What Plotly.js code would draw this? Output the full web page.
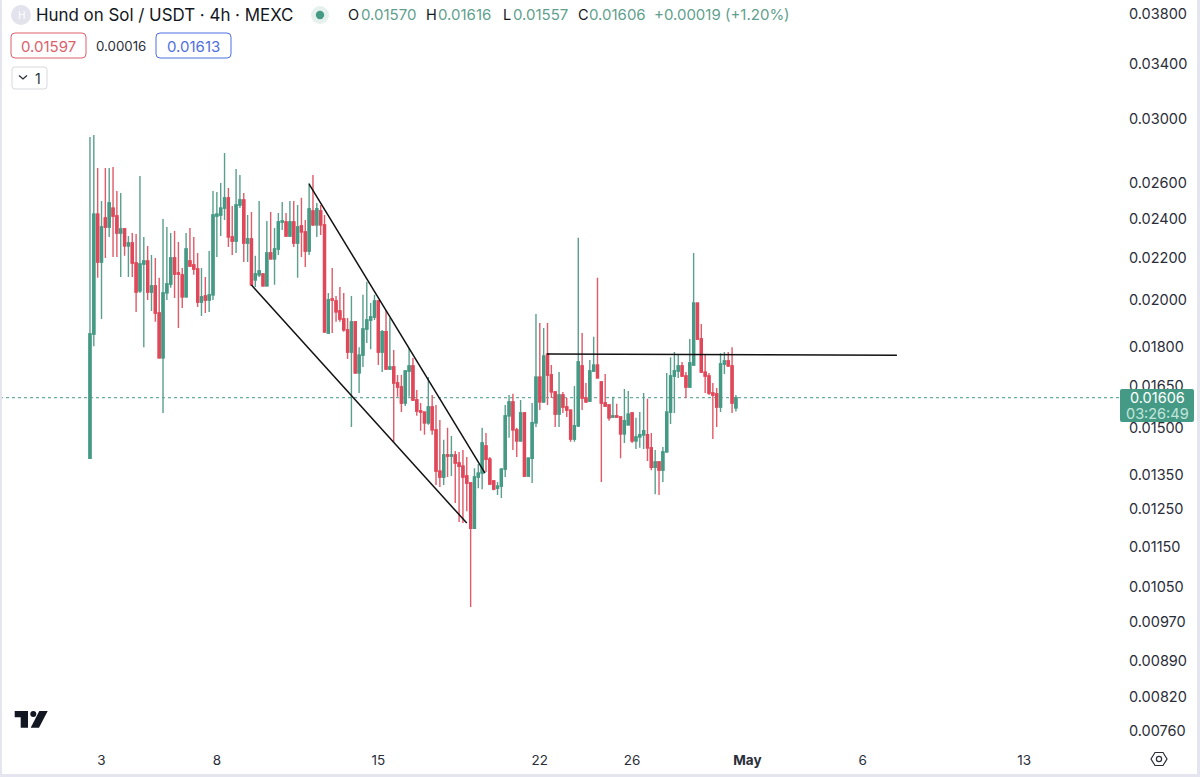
<!DOCTYPE html>
<html>
<head>
<meta charset="utf-8">
<script src="https://cdn.plot.ly/plotly-3.0.1.min.js"></script>
<style>html,body{margin:0;padding:0;background:#fff}#chart{width:1200px;height:777px}</style>
</head>
<body>
<div id="chart"></div>
<script>
var opens = [
.01402,.01853,.02425,.02178,.02404,.02356,.02458,.02415,.02324,.02345,
.02258,.02273,.02173,.02041,.02168,.02183,.02036,.02064,.01942,.01756,
.02032,.02073,.02198,.02125,.02116,.02014,.02183,.02163,.02144,.01991,
.02018,.02000,.02023,.02415,.02420,.02458,.02515,.02304,.02283,.02475,
.02503,.02273,.02293,.02092,.02116,.02120,.02064,.02222,.02193,.02242,
.02382,.02382,.02309,.02382,.02273,.02361,.02330,.02232,.02442,.02367,
.02442,.02367,.01857,.02005,.01995,.01951,.01916,.01870,.01779,.01904,
.01698,.01767,.01874,.01912,.01925,.01995,.01779,.01862,.01713,.01721,
.01660,.01645,.01587,.01705,.01725,.01598,.01559,.01555,.01518,.01573,
.01494,.01362,.01344,.01412,.01409,.01412,.01387,.01377,.01347,.01326,
.01198,.01344,.01356,.01441,.01399,.01332,.01311,.01317,.01368,.01542,
.01591,.01494,.01458,.01552,.01347,.01402,.01518,.01682,.01591,.01771,
.01690,.01627,.01548,.01616,.01573,.01562,.01464,.01508,.01725,.01605,
.01594,.01705,.01728,.01664,.01587,.01580,.01538,.01542,.01538,.01481,
.01511,.01552,.01458,.01471,.01478,.01478,.01435,.01374,.01390,.01365,
.01422,.01555,.01686,.01705,.01725,.01686,.01645,.01728,.01986,.01832,
.01701,.01686,.01623,.01620,.01573,.01732,.01744,.01725,.01570];
var highs = [
.02883,.02896,.02689,.02497,.02689,.02689,.02695,.02554,.02543,.02351,
.02309,.02324,.02319,.02642,.02304,.02258,.02212,.02198,.02102,.02398,
.02356,.02324,.02335,.02278,.02149,.02324,.02351,.02304,.02222,.02149,
.02106,.02232,.02554,.02549,.02601,.02781,.02572,.02469,.02683,.02648,
.02543,.02420,.02436,.02208,.02497,.02120,.02388,.02436,.02351,.02431,
.02492,.02431,.02497,.02497,.02475,.02515,.02393,.02601,.02648,.02486,
.02475,.02420,.02032,.02149,.02018,.02059,.02032,.01921,.02018,.01904,
.01799,.02023,.02083,.01986,.02023,.01995,.01870,.01955,.01921,.01787,
.01690,.01690,.01701,.01795,.01756,.01634,.01587,.01555,.01682,.01616,
.01580,.01528,.01461,.01501,.01474,.01425,.01422,.01428,.01406,.01326,
.01371,.01384,.01501,.01484,.01406,.01335,.01329,.01371,.01580,.01616,
.01620,.01501,.01598,.01552,.01402,.01587,.01938,.01899,.01878,.01899,
.01728,.01627,.01701,.01627,.01605,.01562,.01649,.02299,.01857,.01660,
.01748,.01841,.02102,.01664,.01694,.01580,.01609,.01584,.01538,.01638,
.01630,.01555,.01535,.01555,.01623,.01602,.01484,.01428,.01390,.01438,
.01698,.01759,.01779,.01771,.01740,.01701,.01832,.02222,.01986,.01895,
.01771,.01698,.01660,.01641,.01775,.01779,.01779,.01799,.01616];
var lows = [
.01402,.01803,.02102,.01916,.02198,.02304,.02203,.02203,.02106,.02208,
.02106,.02106,.01947,.02032,.01799,.02000,.01951,.01904,.01756,.01552,
.02000,.02055,.02009,.01878,.01964,.02014,.02154,.02116,.01969,.01929,
.01942,.01947,.02000,.02203,.02309,.02393,.02252,.02212,.02222,.02458,
.02178,.02178,.02064,.02059,.02106,.02064,.02064,.02193,.02069,.02212,
.02340,.02309,.02304,.02252,.02102,.02203,.02154,.02212,.02361,.02304,
.02314,.01857,.01857,.01857,.01904,.01904,.01862,.01752,.01504,.01694,
.01623,.01721,.01816,.01791,.01912,.01728,.01701,.01713,.01713,.01455,
.01609,.01555,.01576,.01609,.01594,.01542,.01491,.01478,.01511,.01478,
.01320,.01314,.01320,.01344,.01347,.01268,.01215,.01212,.01245,.01004,
.01198,.01311,.01308,.01359,.01323,.01305,.01291,.01282,.01344,.01468,
.01428,.01406,.01455,.01344,.01347,.01326,.01504,.01562,.01587,.01580,
.01605,.01504,.01504,.01552,.01538,.01455,.01455,.01504,.01562,.01587,
.01591,.01701,.01679,.01329,.01573,.01525,.01538,.01538,.01402,.01451,
.01511,.01451,.01431,.01435,.01431,.01393,.01365,.01293,.01291,.01329,
.01419,.01514,.01552,.01679,.01682,.01605,.01645,.01728,.01832,.01698,
.01623,.01616,.01464,.01504,.01555,.01694,.01721,.01552,.01557];
var closes = [
.01853,.02425,.02178,.02356,.02356,.02486,.02415,.02324,.02345,.02258,
.02273,.02173,.02036,.02168,.02183,.02036,.02064,.01942,.01756,.02032,
.02073,.02198,.02120,.02120,.02014,.02242,.02158,.02144,.01991,.02014,
.02000,.02023,.02420,.02425,.02458,.02515,.02304,.02283,.02475,.02503,
.02273,.02293,.02069,.02120,.02134,.02064,.02222,.02193,.02242,.02382,
.02388,.02309,.02382,.02273,.02356,.02330,.02232,.02453,.02367,.02453,
.02367,.01862,.02000,.02000,.01947,.01916,.01870,.01779,.01904,.01698,
.01767,.01874,.01912,.01925,.01995,.01779,.01862,.01713,.01721,.01660,
.01645,.01587,.01705,.01725,.01598,.01559,.01555,.01518,.01573,.01494,
.01362,.01344,.01412,.01409,.01412,.01387,.01377,.01344,.01326,.01198,
.01344,.01356,.01451,.01399,.01323,.01308,.01317,.01368,.01542,.01591,
.01494,.01458,.01552,.01347,.01402,.01518,.01682,.01591,.01763,.01690,
.01627,.01548,.01616,.01573,.01562,.01464,.01508,.01740,.01605,.01591,
.01705,.01728,.01679,.01587,.01576,.01535,.01542,.01538,.01481,.01525,
.01548,.01458,.01471,.01478,.01491,.01435,.01374,.01390,.01365,.01422,
.01555,.01686,.01705,.01725,.01686,.01645,.01736,.01986,.01832,.01701,
.01686,.01623,.01616,.01573,.01732,.01744,.01725,.01587,.01606];

var firstCandle = "2024-04-02T12:00:00Z";
var candleHours = 4;
var priceTicks = [0.038,0.034,0.03,0.026,0.024,0.022,0.02,0.018,0.0165,0.015,0.0135,0.0125,0.0115,0.0105,0.0097,0.0089,0.0082,0.0076];
var priceLabels = ["0.03800","0.03400","0.03000","0.02600","0.02400","0.02200","0.02000","0.01800","0.01650","0.01500","0.01350","0.01250","0.01150","0.01050","0.00970","0.00890","0.00820","0.00760"];
var dateTicks = ["2024-04-03","2024-04-08","2024-04-15","2024-04-22","2024-04-26","2024-05-01","2024-05-06","2024-05-13"];
var dateLabels = ["3","8","15","22","26","<b>May</b>","6","13"];
var upperTrendX = ["2024-04-12 00:00","2024-04-19 15:00"], upperTrendY = [0.02594,0.01356];
var lowerTrendX = ["2024-04-09 12:00","2024-04-18 20:00"], lowerTrendY = [0.02068,0.01212];
var levelX = ["2024-04-22 07:30","2024-05-07 11:30"], levelY = [0.01772,0.01767];
var lastClose = 0.01606;

var W=1200,H=777,mR=82,mB=32,PW=W-mR,PH=H-mB;
var GREEN="#459a85",RED="#e0485a",GWICK="#5a9f8d",RWICK="#e05a68",TXT="#2a2e39";
function px(x){return x/PW;}
function py(y){return 1-y/PH;}
var hourMs=3600000, t0=Date.parse(firstCandle);
var times=opens.map(function(_,i){return t0+i*candleHours*hourMs;});
var bodyHi=opens.map(function(o,i){return Math.max(o,closes[i]);});
var bodyLo=opens.map(function(o,i){return Math.min(o,closes[i]);});

var traces=[
 {type:"candlestick",x:times,open:opens,high:highs,low:lows,close:closes,width:2*hourMs,whiskerwidth:0,
  increasing:{line:{color:GWICK,width:1.4},fillcolor:GREEN},decreasing:{line:{color:RWICK,width:1.4},fillcolor:RED},hoverinfo:"skip"},
 {type:"candlestick",x:times,open:opens,high:bodyHi,low:bodyLo,close:closes,width:2*hourMs,whiskerwidth:0,
  increasing:{line:{color:GREEN,width:1.4},fillcolor:GREEN},decreasing:{line:{color:RED,width:1.4},fillcolor:RED},hoverinfo:"skip"},
 {type:"scatter",mode:"lines",x:upperTrendX,y:upperTrendY,line:{color:"#111",width:1.5},hoverinfo:"skip"},
 {type:"scatter",mode:"lines",x:lowerTrendX,y:lowerTrendY,line:{color:"#111",width:1.5},hoverinfo:"skip"},
 {type:"scatter",mode:"lines",x:levelX,y:levelY,line:{color:"#111",width:1.5},hoverinfo:"skip"}
];

function rrect(x0,y0,x1,y1,r){
 var X0=px(x0),X1=px(x1),Y0=py(y0),Y1=py(y1),rx=r/PW,ry=r/PH;
 return "M"+(X0+rx)+","+Y0+" L"+(X1-rx)+","+Y0+" Q"+X1+","+Y0+" "+X1+","+(Y0-ry)+" L"+X1+","+(Y1+ry)+" Q"+X1+","+Y1+" "+(X1-rx)+","+Y1+" L"+(X0+rx)+","+Y1+" Q"+X0+","+Y1+" "+X0+","+(Y1+ry)+" L"+X0+","+(Y0-ry)+" Q"+X0+","+Y0+" "+(X0+rx)+","+Y0+" Z";
}
function poly(pts,close){
 return pts.map(function(p,i){return (i?"L":"M")+px(p[0])+","+py(p[1]);}).join(" ")+(close?" Z":"");
}
function pshape(d,fill,stroke,w){
 return {type:"path",xref:"paper",yref:"paper",path:d,fillcolor:fill||"rgba(0,0,0,0)",line:{color:stroke||"rgba(0,0,0,0)",width:w||0}};
}
function circ(cx,cy,r,fill,stroke,w){
 return {type:"circle",xref:"paper",yref:"paper",x0:px(cx-r),x1:px(cx+r),y0:py(cy+r),y1:py(cy-r),fillcolor:fill,line:{color:stroke||"rgba(0,0,0,0)",width:w||0}};
}
var shapes=[
 {type:"line",xref:"paper",yref:"y",x0:0,x1:px(1120),y0:lastClose,y1:lastClose,layer:"below",line:{color:GREEN,width:1,dash:"dot"}},
 pshape(rrect(0,0,2,777,0),"#e4e5ef"),
 pshape(rrect(1197,0,1200,777,0),"#e4e5ef"),
 pshape(rrect(0,774,1200,777,0),"#e4e5ef"),
 circ(21,15,10,"#e2e3ed"),
 circ(320,15,9,"#e6f1ee"),
 circ(320,15,4.2,"#459a85"),
 pshape(rrect(11,33,86,58,4),"#fff","#dc5f6b",1),
 pshape(rrect(156,33,231,58,4),"#fff","#4f6fe0",1),
 pshape(rrect(12,67,47,89,3),"#fff","#d8d9de",1),
 pshape(poly([[19,75.5],[23,79],[27,75.5]],false),null,"#2a2e39",1.3),
 pshape(poly([[14.7,711],[28,711],[28,727.7],[20.7,727.7],[20.7,717.3],[14.7,717.3]],true),"#131722"),
 circ(33.3,714,3,"#131722"),
 pshape(poly([[39.3,711],[47.7,711],[39,727.7],[30.7,727.7]],true),"#131722"),
 pshape(poly([[1151,759],[1155,752.5],[1163,752.5],[1167,759],[1163,765.5],[1155,765.5]],true),null,"#2a2e39",1.2),
 circ(1159,759,2.6,"rgba(0,0,0,0)","#2a2e39",1.2),
 pshape(rrect(1120,389,1194,422,2),"#459a85")
];
function note(x,y,text,color,size,anchor){
 return {xref:"paper",yref:"paper",x:px(x),y:py(y),text:text,showarrow:false,xanchor:anchor||"left",yanchor:"middle",borderpad:0,borderwidth:0,
  font:{family:"Inter, 'Liberation Sans', sans-serif",size:size||13.5,color:color||TXT}};
}
var GT="#5f9f8e";
var annotations=[
 note(21,15,"H","#fff",10,"center"),
 note(36,15,"Hund on Sol / USDT · 4h · MEXC","#131722",16.9),
 note(348,15,"O","#131722",14.5), note(361,15,"0.01570",GT,15),
 note(426,15,"H","#131722",14.5), note(438,15,"0.01616",GT,15),
 note(503,15,"L","#131722",14.5), note(513,15,"0.01557",GT,15),
 note(578,15,"C","#131722",14.5), note(589,15,"0.01606",GT,15),
 note(654,15,"+0.00019 (+1.20%)",GT,15),
 note(48.5,46,"0.01597","#dc5f6b",15,"center"),
 note(121,46,"0.00016",TXT,13.3,"center"),
 note(193.5,46,"0.01613","#4f6fe0",15,"center"),
 note(38,78,"1",TXT,14,"center"),
 note(1157,397,"0.01606","#fff",14.5,"center"),
 note(1157,413,"03:26:49","#c3e6dc",14.5,"center")
];
var layout={
 width:W,height:H,showlegend:false,paper_bgcolor:"#fff",plot_bgcolor:"#fff",
 margin:{l:0,r:mR,t:0,b:mB,pad:0},
 font:{family:"Inter, 'Liberation Sans', sans-serif",color:TXT,size:14},
 xaxis:{type:"date",range:["2024-03-29 14:24","2024-05-17 01:30"],tickmode:"array",tickvals:dateTicks,ticktext:dateLabels,
  showgrid:false,zeroline:false,showline:false,ticks:"",ticklabelstandoff:5,rangeslider:{visible:false},tickfont:{size:13.5,color:TXT},fixedrange:true},
 yaxis:{type:"log",side:"right",range:[Math.log10(0.007366),Math.log10(0.03921)],tickmode:"array",tickvals:priceTicks,ticktext:priceLabels,
  showgrid:false,zeroline:false,showline:false,ticks:"",ticklabelstandoff:10,tickfont:{size:14.5,color:TXT},fixedrange:true},
 shapes:shapes,annotations:annotations
};
Plotly.newPlot("chart",traces,layout,{displayModeBar:false,staticPlot:true});
</script>
</body>
</html>
